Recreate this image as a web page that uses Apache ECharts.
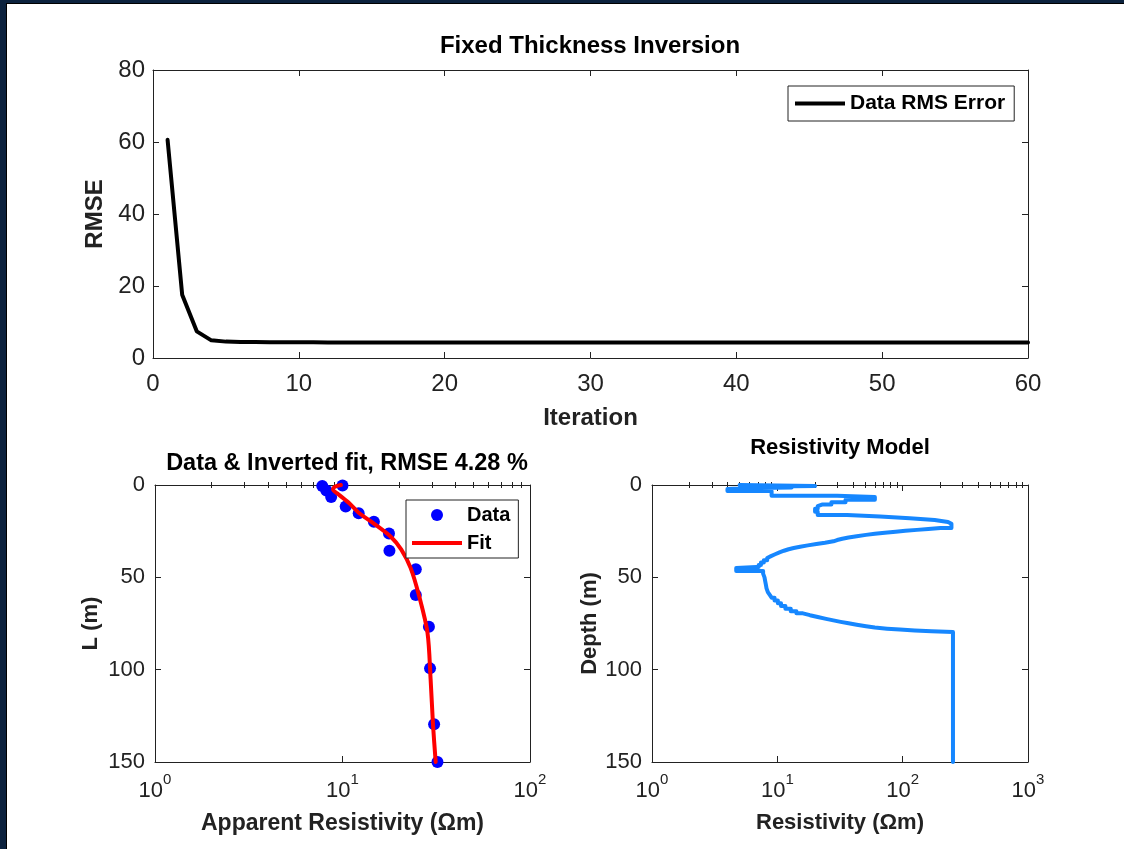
<!DOCTYPE html>
<html>
<head>
<meta charset="utf-8">
<script src="https://cdn.jsdelivr.net/npm/echarts@6/dist/echarts.min.js"></script>
<style>
  html, body { margin: 0; padding: 0; background: #fff; }
  #chart { width: 1124px; height: 849px; }
</style>
</head>
<body>
<div id="chart"></div>
<script>
// ---- Inversion convergence (upper panel) ----
const iterations = [
  1, 2, 3, 4, 5, 6, 7, 8, 9, 10, 11, 12, 13, 14, 15, 16, 17, 18, 19, 20,
  21, 22, 23, 24, 25, 26, 27, 28, 29, 30, 31, 32, 33, 34, 35, 36, 37, 38, 39, 40,
  41, 42, 43, 44, 45, 46, 47, 48, 49, 50, 51, 52, 53, 54, 55, 56, 57, 58, 59, 60
];
const rmse = [
  60.6, 17.6, 7.4, 4.9, 4.55, 4.46, 4.42, 4.39, 4.37, 4.36,
  4.35, 4.34, 4.33, 4.33, 4.32, 4.32, 4.31, 4.31, 4.31, 4.30,
  4.30, 4.30, 4.30, 4.30, 4.29, 4.29, 4.29, 4.29, 4.29, 4.29,
  4.29, 4.29, 4.29, 4.29, 4.28, 4.28, 4.28, 4.28, 4.28, 4.28,
  4.28, 4.28, 4.28, 4.28, 4.28, 4.28, 4.28, 4.28, 4.28, 4.28,
  4.28, 4.28, 4.28, 4.28, 4.28, 4.28, 4.28, 4.28, 4.28, 4.28
];

// ---- Sounding data and fitted curve (lower left) ----
const dataRho   = [7.8, 10.0, 8.2, 8.7, 10.4, 12.2, 14.7, 17.7, 17.8, 24.6, 24.6, 28.9, 29.3, 30.8, 32.1];
const dataDepth = [0.5, 0.3, 3.0, 6.5, 11.7, 15.3, 19.9, 26.2, 35.6, 45.6, 59.6, 76.7, 99.3, 129.6, 150];
const fitRho    = [9.8, 9.1, 8.9, 9.5, 10.9, 12.2, 14.3, 18.1, 20.6, 23.1, 25.6, 28.4, 29.5, 30.4, 31.4];
const fitDepth  = [0, 1, 2.5, 5, 10, 15, 20, 28, 35, 45, 60, 80, 105, 130, 150];

// ---- Layered resistivity model (lower right): layer top depth and resistivity ----
const layerTop = [
  0, 0.5, 0.9, 1.3, 1.7, 2.2, 3.3, 5.8, 6.5, 8.0, 9.3, 10.5, 11.5, 12.8, 14.5,
  16.2, 17.0, 18.0, 19.0, 20.0, 21.0,
  23.3, 23.8, 24.3, 24.8, 25.3, 25.8, 26.4, 27.0, 27.7, 28.4, 29.1, 29.8, 30.5,
  31.3, 32.0, 32.7, 33.4, 34.1, 34.8, 35.6, 36.5, 37.5, 38.5, 39.5, 40.7, 42.0,
  43.3, 44.4, 45.0, 46.6, 48, 50, 52, 54, 56, 58, 59.5, 61, 62.5, 64, 65.5,
  67, 68.3, 69.5, 70.5, 71.5, 72.5, 73.3, 74.1, 74.9, 75.7, 76.5, 77.2, 77.8,
  78.3, 78.8, 79.2, 79.6
];
const layerRho = [
  5.0, 20, 6, 13, 5.5, 4.0, 9.0, 30, 60, 35, 27, 23, 21, 20, 21,
  36, 66, 114, 180, 230, 245,
  200, 160, 130, 105, 88, 72, 60, 51, 43, 37, 33, 30, 28,
  24, 20.5, 17.5, 15.2, 13.5, 12.3, 11.3, 10.4, 9.6, 8.9, 8.3, 7.8, 7.4,
  7.1, 6.8, 4.7, 7.7, 7.9, 8.0, 8.1, 8.2, 8.4, 8.7, 9.0, 9.5, 10.1, 10.7, 11.6,
  12.8, 14.2, 16, 18.2, 21, 24.5, 28, 32, 37, 43, 51, 60, 75,
  95, 125, 170, 252
];
const modelBottom = 150;

// ---- Tick values ----
const iterTicks = [0, 10, 20, 30, 40, 50, 60];
const rmseTicks = [0, 20, 40, 60, 80];
const depthTicks = [0, 50, 100, 150];
const decades100 = [1, 10, 100];
const decades1000 = [1, 10, 100, 1000];
const minor100 = [2, 3, 4, 5, 6, 7, 8, 9, 20, 30, 40, 50, 60, 70, 80, 90];
const minor1000 = [2, 3, 4, 5, 6, 7, 8, 9, 20, 30, 40, 50, 60, 70, 80, 90,
                   200, 300, 400, 500, 600, 700, 800, 900];

// ---- Styling ----
const AX = '#222222';
const FONT = '"Liberation Sans", Arial, Helvetica, sans-serif';
const NAV = '#0c223e';
const LINE_ICON = 'path://M0,0L50,0L50,4L0,4Z';

const pairs = (xs, ys) => xs.map((x, i) => [x, ys[i]]);

// Stair path of the layered model: constant resistivity down each layer
const modelPath = [];
layerTop.forEach((top, i) => {
  const bottom = i + 1 < layerTop.length ? layerTop[i + 1] : modelBottom;
  modelPath.push([layerRho[i], top]);
  modelPath.push([layerRho[i], bottom]);
});

const bigName = { fontSize: 24, fontWeight: 'bold', color: AX, fontFamily: FONT };
const nameStyle = { fontSize: 22, fontWeight: 'bold', color: AX, fontFamily: FONT };
const bigLabel = { fontSize: 24, color: AX, fontFamily: FONT };
const labelStyle = { fontSize: 22, color: AX, fontFamily: FONT };

function frameAxis(extra) {
  return Object.assign({
    axisLine: { show: true, onZero: false, lineStyle: { color: AX, width: 1 } },
    axisTick: { show: true, inside: true, length: 6, lineStyle: { color: AX, width: 1 } },
    axisLabel: { show: false },
    splitLine: { show: false }
  }, extra);
}
function minorLogAxis(grid, pos, max, ticks) {
  return {
    gridIndex: grid, type: 'log', logBase: 10, min: 1, max: max, position: pos,
    axisLine: { show: false },
    axisTick: { show: true, inside: true, length: 3, customValues: ticks, lineStyle: { color: AX, width: 1 } },
    axisLabel: { show: false },
    splitLine: { show: false }
  };
}
const powLabel = {
  ...labelStyle,
  margin: 10,
  formatter: v => '{b|10}{s|' + Math.round(Math.log10(v)) + '}',
  rich: {
    b: { fontSize: 22, color: AX, fontFamily: FONT, lineHeight: 30, verticalAlign: 'bottom' },
    s: { fontSize: 15, color: AX, fontFamily: FONT, lineHeight: 16, verticalAlign: 'top' }
  }
};

const option = {
  animation: false,
  backgroundColor: '#fff',
  textStyle: { fontFamily: FONT },
  graphic: [
    { type: 'rect', shape: { x: 0, y: 0, width: 6, height: 849 }, style: { fill: NAV }, silent: true },
    { type: 'rect', shape: { x: 6, y: 3, width: 1, height: 846 }, style: { fill: '#000' }, silent: true },
    { type: 'rect', shape: { x: 0, y: 0, width: 1124, height: 3 }, style: { fill: NAV }, silent: true },
    { type: 'rect', shape: { x: 6, y: 3, width: 1118, height: 1 }, style: { fill: '#000' }, silent: true }
  ],
  title: [
    { text: 'Fixed Thickness Inversion', left: 590, top: 46, size: 24 },
    { text: 'Data & Inverted fit, RMSE 4.28 %', left: 347, top: 464, size: 23.5 },
    { text: 'Resistivity Model', left: 840, top: 448, size: 22 }
  ].map(t => ({
    text: t.text, left: t.left, top: t.top,
    padding: 0, textAlign: 'center', textVerticalAlign: 'middle',
    textStyle: { fontSize: t.size, fontWeight: 'bold', color: '#000', fontFamily: FONT }
  })),
  legend: [
    {
      data: [{ name: 'Data RMS Error', icon: LINE_ICON }], left: 788, top: 86,
      itemWidth: 50, itemHeight: 14, itemGap: 0,
      padding: [7, 9, 7, 7], borderColor: AX, borderWidth: 1, backgroundColor: '#fff',
      textStyle: { fontSize: 21, fontWeight: 'bold', color: '#000', fontFamily: FONT }
    },
    {
      data: [{ name: 'Data', icon: 'circle' }, { name: 'Fit', icon: LINE_ICON }],
      left: 406, top: 500, orient: 'vertical',
      itemWidth: 50, itemHeight: 12, itemGap: 8,
      padding: [5, 8, 5, 6], borderColor: AX, borderWidth: 1, backgroundColor: '#fff',
      textStyle: { fontSize: 20, fontWeight: 'bold', color: '#000', fontFamily: FONT }
    }
  ],
  grid: [
    { left: 153, top: 70, width: 875, height: 288 },
    { left: 155, top: 485, width: 375, height: 277 },
    { left: 652, top: 485, width: 376, height: 277 }
  ],
  xAxis: [
    // upper panel
    frameAxis({
      gridIndex: 0, type: 'value', min: 0, max: 60, interval: 10, position: 'bottom',
      axisLabel: { show: true, ...bigLabel, margin: 14, customValues: iterTicks },
      name: 'Iteration', nameLocation: 'middle', nameGap: 48, nameTextStyle: bigName
    }),
    frameAxis({ gridIndex: 0, type: 'value', min: 0, max: 60, interval: 10, position: 'top' }),
    // lower left
    frameAxis({
      gridIndex: 1, type: 'log', logBase: 10, min: 1, max: 100, position: 'bottom',
      axisTick: { show: true, inside: true, length: 6, customValues: decades100, lineStyle: { color: AX } },
      axisLabel: { show: true, ...powLabel, customValues: decades100 },
      name: 'Apparent Resistivity (\u03A9m)', nameLocation: 'middle', nameGap: 50,
      nameTextStyle: { ...nameStyle, fontSize: 23 }
    }),
    minorLogAxis(1, 'bottom', 100, minor100),
    frameAxis({
      gridIndex: 1, type: 'log', logBase: 10, min: 1, max: 100, position: 'top',
      axisTick: { show: true, inside: true, length: 6, customValues: decades100, lineStyle: { color: AX } }
    }),
    minorLogAxis(1, 'top', 100, minor100),
    // lower right
    frameAxis({
      gridIndex: 2, type: 'log', logBase: 10, min: 1, max: 1000, position: 'bottom',
      axisTick: { show: true, inside: true, length: 6, customValues: decades1000, lineStyle: { color: AX } },
      axisLabel: { show: true, ...powLabel, customValues: decades1000 },
      name: 'Resistivity (\u03A9m)', nameLocation: 'middle', nameGap: 50, nameTextStyle: nameStyle
    }),
    minorLogAxis(2, 'bottom', 1000, minor1000),
    frameAxis({
      gridIndex: 2, type: 'log', logBase: 10, min: 1, max: 1000, position: 'top',
      axisTick: { show: true, inside: true, length: 6, customValues: decades1000, lineStyle: { color: AX } }
    }),
    minorLogAxis(2, 'top', 1000, minor1000)
  ],
  yAxis: [
    frameAxis({
      gridIndex: 0, type: 'value', min: 0, max: 80, interval: 20, position: 'left',
      axisLabel: { show: true, ...bigLabel, margin: 8, customValues: rmseTicks },
      name: 'RMSE', nameLocation: 'middle', nameGap: 38, nameTextStyle: bigName
    }),
    frameAxis({ gridIndex: 0, type: 'value', min: 0, max: 80, interval: 20, position: 'right' }),
    frameAxis({
      gridIndex: 1, type: 'value', min: 0, max: 150, interval: 50, inverse: true, position: 'left',
      axisLabel: { show: true, ...labelStyle, margin: 10, customValues: depthTicks },
      name: 'L (m)', nameLocation: 'middle', nameGap: 53, nameTextStyle: nameStyle
    }),
    frameAxis({ gridIndex: 1, type: 'value', min: 0, max: 150, interval: 50, inverse: true, position: 'right' }),
    frameAxis({
      gridIndex: 2, type: 'value', min: 0, max: 150, interval: 50, inverse: true, position: 'left',
      axisLabel: { show: true, ...labelStyle, margin: 10, customValues: depthTicks },
      name: 'Depth (m)', nameLocation: 'middle', nameGap: 50, nameTextStyle: nameStyle
    }),
    frameAxis({ gridIndex: 2, type: 'value', min: 0, max: 150, interval: 50, inverse: true, position: 'right' })
  ],
  series: [
    {
      name: 'Data RMS Error', type: 'line', xAxisIndex: 0, yAxisIndex: 0,
      data: pairs(iterations, rmse), symbol: 'none', showSymbol: false,
      lineStyle: { color: '#000', width: 4, join: 'round', cap: 'round' },
      itemStyle: { color: '#000' }
    },
    {
      name: 'Data', type: 'scatter', xAxisIndex: 2, yAxisIndex: 2,
      data: pairs(dataRho, dataDepth), symbol: 'circle', symbolSize: 12,
      itemStyle: { color: '#0000ff', opacity: 1 }, clip: false, z: 2
    },
    {
      name: 'Fit', type: 'line', xAxisIndex: 2, yAxisIndex: 2,
      data: pairs(fitRho, fitDepth), symbol: 'none', showSymbol: false, smooth: 0.3,
      lineStyle: { color: '#ff0000', width: 4, join: 'round', cap: 'round' },
      itemStyle: { color: '#ff0000' }, z: 3
    },
    {
      name: 'Model', type: 'line', xAxisIndex: 6, yAxisIndex: 4,
      data: modelPath, symbol: 'none', showSymbol: false,
      lineStyle: { color: '#1687ff', width: 4, join: 'round', cap: 'round' },
      itemStyle: { color: '#1687ff' }
    }
  ]
};

const chart = echarts.init(document.getElementById('chart'), null, { renderer: 'canvas' });
chart.setOption(option);
</script>
</body>
</html>
